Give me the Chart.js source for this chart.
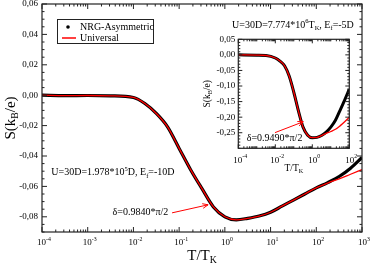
<!DOCTYPE html>
<html lang="en">
<head>
<meta charset="UTF-8">
<title>Thermopower S vs T/T_K</title>
<style>
  body { margin: 0; background: #fff; }
  #wrap { position: relative; width: 374px; height: 266px; }
  #main { position: absolute; left: 0; top: 0; }
  #inset { position: absolute; left: 195px; top: 30px; }
</style>
<script src="https://cdn.jsdelivr.net/npm/chart.js"></script>
</head>
<body>
<div id="wrap">
  <canvas id="main" width="374" height="266"></canvas>
  <canvas id="inset" width="165" height="145"></canvas>
</div>
<script>
// main panel: U=30D, Ef=-10D
const mainT = [1e-4, 3.16e-4, 1e-3, 3.16e-3, 1e-2, 1.78e-2, 3.16e-2, 5.62e-2, 0.1, 0.178, 0.316, 0.562,
               1, 1.78, 3.16, 5.62, 10, 17.8, 31.6, 56.2, 100, 178, 316, 562, 1000];
const mainNRG = [0.0000, -0.0003, -0.0002, -0.0004, -0.0015, -0.0055, -0.0120, -0.0210, -0.0350, -0.0490, -0.0615, -0.0735,
                 -0.0800, -0.0820, -0.0810, -0.0795, -0.0770, -0.0730, -0.0690, -0.0650, -0.0610, -0.0575, -0.0535, -0.0480, -0.0410];
const mainUniv = [0.0000, -0.0003, -0.0002, -0.0004, -0.0015, -0.0055, -0.0120, -0.0210, -0.0350, -0.0490, -0.0615, -0.0735,
                  -0.0800, -0.0820, -0.0810, -0.0795, -0.0770, -0.0730, -0.0690, -0.0650, -0.0610, -0.0578, -0.0550, -0.0520, -0.0490];
const mainXTicks = [1e-4, 1e-3, 1e-2, 1e-1, 1, 1e1, 1e2, 1e3];
const mainYTicks = [-0.08, -0.06, -0.04, -0.02, 0, 0.02, 0.04, 0.06];

// inset: U=30D, Ef=-5D
const insetT = [1e-4, 1e-3, 3.16e-3, 1e-2, 1.78e-2, 3.16e-2, 5.62e-2, 0.1, 0.178, 0.316, 0.562,
                1, 1.78, 3.16, 5.62, 10, 17.8, 31.6, 56.2, 100];
const insetNRG = [0.000, -0.001, -0.002, -0.010, -0.020, -0.035, -0.068, -0.120, -0.180, -0.232, -0.258,
                  -0.266, -0.265, -0.259, -0.248, -0.232, -0.210, -0.178, -0.145, -0.110];
const insetUniv = [0.000, -0.001, -0.002, -0.010, -0.020, -0.035, -0.068, -0.120, -0.180, -0.232, -0.258,
                   -0.266, -0.265, -0.259, -0.252, -0.246, -0.239, -0.228, -0.215, -0.200];
const insetXTicks = [1e-4, 1e-2, 1, 1e2];
const insetXDecades = [1e-4, 1e-3, 1e-2, 1e-1, 1, 1e1, 1e2];
const insetYTicks = [-0.25, -0.20, -0.15, -0.10, -0.05, 0, 0.05];

const SERIF = "'Liberation Serif', 'Times New Roman', serif";

function pts(xs, ys) { return xs.map((x, i) => ({ x: x, y: ys[i] })); }

// text with super/subscripts: segs = [[text, 'sup'|'sub'|undefined], ...]
function drawRich(ctx, segs, x, y, size, align) {
  ctx.textBaseline = 'middle';
  ctx.textAlign = 'left';
  let total = 0;
  segs.forEach(s => {
    ctx.font = (s[1] ? size * 0.65 : size) + 'px ' + SERIF;
    total += ctx.measureText(s[0]).width;
  });
  let cx = align === 'center' ? x - total / 2 : (align === 'right' ? x - total : x);
  segs.forEach(s => {
    ctx.font = (s[1] ? size * 0.65 : size) + 'px ' + SERIF;
    const dy = s[1] === 'sup' ? -size * 0.38 : (s[1] === 'sub' ? size * 0.32 : 0);
    ctx.fillText(s[0], cx, y + dy);
    cx += ctx.measureText(s[0]).width;
  });
}

const framePlugin = {
  id: 'frame',
  afterDatasetsDraw(chart, args, o) {
    const { ctx, chartArea: a } = chart;
    const x = chart.scales.x, y = chart.scales.y;
    ctx.save();
    ctx.strokeStyle = '#222';
    ctx.fillStyle = '#000';
    ctx.lineWidth = 1.2;
    ctx.strokeRect(a.left, a.top, a.right - a.left, a.bottom - a.top);

    ctx.lineWidth = 1;
    ctx.beginPath();
    const vt = (px, len) => {
      ctx.moveTo(px, a.bottom); ctx.lineTo(px, a.bottom - len);
      ctx.moveTo(px, a.top); ctx.lineTo(px, a.top + len);
    };
    const ht = (py, len) => {
      ctx.moveTo(a.left, py); ctx.lineTo(a.left + len, py);
      ctx.moveTo(a.right, py); ctx.lineTo(a.right - len, py);
    };
    o.xDecades.forEach(d => {
      const isMajor = o.xMajor.some(m => Math.abs(m / d - 1) < 1e-6);
      vt(x.getPixelForValue(d), isMajor ? o.major : o.minor);
      for (let k = 2; k <= 9; k++) {
        if (k * d < x.max * 1.0001) vt(x.getPixelForValue(k * d), o.minor);
      }
    });
    o.yMajor.forEach(v => ht(y.getPixelForValue(v), o.major));
    const n0 = Math.ceil(y.min / o.yMinor - 1e-6), n1 = Math.floor(y.max / o.yMinor + 1e-6);
    for (let n = n0; n <= n1; n++) {
      const v = n * o.yMinor;
      if (o.yMajor.some(m => Math.abs(m - v) < 1e-6)) continue;
      ht(y.getPixelForValue(v), o.minor);
    }
    ctx.stroke();

    // x tick labels 10^n
    o.xMajor.forEach(d => {
      const e = Math.round(Math.log10(d));
      drawRich(ctx, [['10'], [String(e), 'sup']], x.getPixelForValue(d) + 2, a.bottom + o.xLabelGap, o.labelSize, 'center');
    });

    // axis titles
    drawRich(ctx, o.xTitle, (a.left + a.right) / 2, a.bottom + o.xTitleGap, o.titleSize, 'center');
    ctx.save();
    ctx.translate(a.left - o.yTitleGap, (a.top + a.bottom) / 2);
    ctx.rotate(-Math.PI / 2);
    drawRich(ctx, o.yTitle, 0, 0, o.titleSize, 'center');
    ctx.restore();

    // annotations placed in data space
    (o.texts || []).forEach(t => {
      drawRich(ctx, t.segs, x.getPixelForValue(t.x), y.getPixelForValue(t.y), t.size, 'left');
    });
    (o.arrows || []).forEach(ar => {
      const x1 = x.getPixelForValue(ar.x1), y1 = y.getPixelForValue(ar.y1);
      const x2 = x.getPixelForValue(ar.x2), y2 = y.getPixelForValue(ar.y2);
      const ang = Math.atan2(y2 - y1, x2 - x1);
      ctx.strokeStyle = '#ff0000';
      ctx.lineWidth = 1;
      ctx.beginPath();
      ctx.moveTo(x1, y1); ctx.lineTo(x2, y2);
      ctx.moveTo(x2, y2); ctx.lineTo(x2 - 6 * Math.cos(ang - 0.4), y2 - 6 * Math.sin(ang - 0.4));
      ctx.moveTo(x2, y2); ctx.lineTo(x2 - 6 * Math.cos(ang + 0.4), y2 - 6 * Math.sin(ang + 0.4));
      ctx.stroke();
    });

    // legend box
    if (o.legend) {
      const lx = a.left + 15, ly = a.top + 15;
      ctx.fillStyle = '#fff';
      ctx.fillRect(lx, ly, 96, 24);
      ctx.strokeStyle = '#222';
      ctx.lineWidth = 1;
      ctx.strokeRect(lx + 0.5, ly + 0.5, 96, 24);
      ctx.fillStyle = '#000';
      ctx.beginPath();
      ctx.arc(lx + 11, ly + 8, 1.8, 0, Math.PI * 2);
      ctx.fill();
      ctx.strokeStyle = '#ff0000';
      ctx.lineWidth = 1.5;
      ctx.beginPath();
      ctx.moveTo(lx + 5, ly + 19); ctx.lineTo(lx + 19, ly + 19);
      ctx.stroke();
      drawRich(ctx, [['NRG-Asymmetric']], lx + 23, ly + 8, 10, 'left');
      drawRich(ctx, [['Universal']], lx + 23, ly + 19, 10, 'left');
    }
    ctx.restore();
  }
};

function fixScale(w, h) {
  return function (scale) {
    if (w !== null) scale.width = w;
    if (h !== null) scale.height = h;
    scale.paddingTop = 0; scale.paddingBottom = 0;
    scale.paddingLeft = 0; scale.paddingRight = 0;
  };
}

function makeChart(id, cfg) {
  return new Chart(document.getElementById(id), {
    type: 'line',
    data: {
      datasets: [
        { label: 'Universal', data: pts(cfg.T, cfg.univ), borderColor: '#ff0000', borderWidth: 1.3,
          pointRadius: 0, cubicInterpolationMode: 'monotone', fill: false },
        { label: 'NRG-Asymmetric', data: pts(cfg.T, cfg.nrg), borderColor: '#000', borderWidth: cfg.nrgWidth,
          pointRadius: 0, cubicInterpolationMode: 'monotone', fill: false }
      ]
    },
    options: {
      responsive: false,
      animation: false,
      devicePixelRatio: 1,
      layout: { padding: cfg.padding },
      plugins: { legend: { display: false }, tooltip: { enabled: false }, frame: cfg.frame },
      scales: {
        x: {
          type: 'logarithmic', min: cfg.xMin, max: cfg.xMax,
          grid: { display: false }, border: { display: false },
          ticks: { display: false },
          afterFit: fixScale(null, cfg.xH)
        },
        y: {
          type: 'linear', min: cfg.yMin, max: cfg.yMax,
          grid: { display: false, drawTicks: false }, border: { display: false },
          afterBuildTicks: s => { s.ticks = cfg.yTicks.map(v => ({ value: v })); },
          ticks: {
            padding: cfg.yPad, color: '#000',
            font: { family: SERIF, size: 9 },
            callback: v => (v < 0 ? '-' : '') + Math.abs(v).toFixed(2).replace('.', ',')
          },
          afterFit: fixScale(cfg.yW, null)
        }
      }
    },
    plugins: [framePlugin]
  });
}

makeChart('main', {
  T: mainT, nrg: mainNRG, univ: mainUniv, nrgWidth: 3.2,
  xMin: 1e-4, xMax: 1e3, yMin: -0.09, yMax: 0.06, yTicks: mainYTicks,
  padding: { top: 4, right: 12, left: 0, bottom: 0 }, xH: 34, yW: 42, yPad: 4,
  frame: {
    xMajor: mainXTicks, xDecades: mainXTicks, yMajor: mainYTicks, yMinor: 0.005,
    major: 5, minor: 2.5, labelSize: 9, xLabelGap: 11, titleSize: 15,
    xTitle: [['T/T'], ['K', 'sub']], xTitleGap: 24,
    yTitle: [['S(k'], ['B', 'sub'], ['/e)']], yTitleGap: 31,
    legend: true,
    texts: [
      { x: 1.6e-4, y: -0.0511, size: 10, segs: [['U=30D=1.978*10'], ['5', 'sup'], ['D, E'], ['f', 'sub'], ['=-10D']] },
      { x: 3.5e-3, y: -0.0774, size: 10, segs: [['\u03b4=0.9840*\u03c0/2']] },
      { x: 1.44, y: 0.0459, size: 10, segs: [['U=30D=7.774*10'], ['6', 'sup'], ['T'], ['K', 'sub'], [', E'], ['f', 'sub'], ['=-5D']] }
    ],
    arrows: [{ x1: 0.07, y1: -0.0774, x2: 0.43, y2: -0.0721 }]
  }
});

makeChart('inset', {
  T: insetT, nrg: insetNRG, univ: insetUniv, nrgWidth: 3,
  xMin: 1e-4, xMax: 1e2, yMin: -0.30, yMax: 0.05, yTicks: insetYTicks,
  padding: { top: 9.3, right: 10.7, left: 0, bottom: 0 }, xH: 26.7, yW: 43.3, yPad: 3,
  frame: {
    xMajor: insetXTicks, xDecades: insetXDecades, yMajor: insetYTicks, yMinor: 0.01,
    major: 4, minor: 2, labelSize: 9, xLabelGap: 12, titleSize: 9.5,
    xTitle: [['T/T'], ['K', 'sub']], xTitleGap: 20,
    yTitle: [['S(k'], ['B', 'sub'], ['/e)']], yTitleGap: 31,
    legend: false,
    texts: [{ x: 2.85e-4, y: -0.2675, size: 10, segs: [['\u03b4=0.9490*\u03c0/2']] }],
    arrows: [{ x1: 0.0096, y1: -0.2497, x2: 0.327, y2: -0.2147 }]
  }
});
</script>
</body>
</html>
